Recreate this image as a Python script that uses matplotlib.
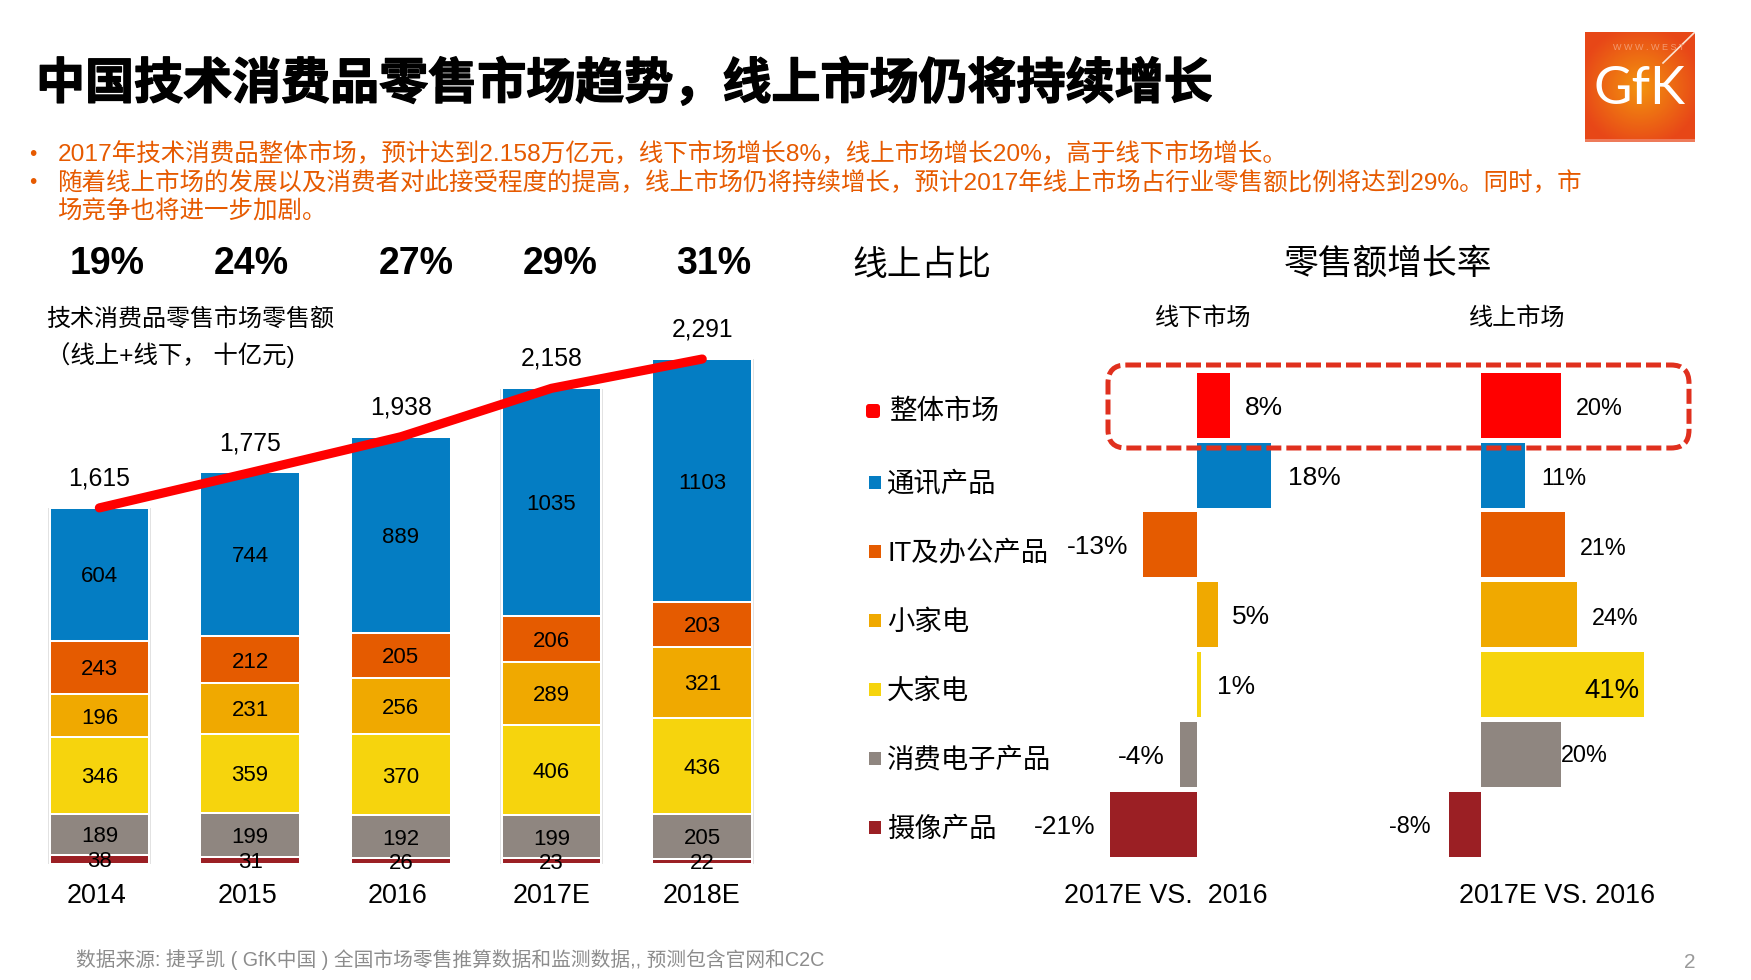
#!/usr/bin/env python3
# -*- coding: utf-8 -*-
import numpy as np
import matplotlib
matplotlib.use("Agg")
import matplotlib.pyplot as plt
import matplotlib.patheffects as pe
from matplotlib.patches import FancyBboxPatch, Rectangle

plt.rcParams['font.family'] = ['Liberation Sans', 'Noto Sans CJK SC']

W, H = 1751, 980

# Stacked bars, bottom to top
years = ["2014", "2015", "2016", "2017E", "2018E"]
camera = [38, 31, 26, 23, 22]
consumer = [189, 199, 192, 199, 205]
large_appliance = [346, 359, 370, 406, 436]
small_appliance = [196, 231, 256, 289, 321]
it_office = [243, 212, 205, 206, 203]
telecom = [604, 744, 889, 1035, 1103]
totals = [1615, 1775, 1938, 2158, 2291]
online_share = ["19%", "24%", "27%", "29%", "31%"]

# Growth rates, top to bottom
categories = ["整体市场", "通讯产品", "IT及办公产品", "小家电", "大家电", "消费电子产品", "摄像产品"]
offline_growth = [8, 18, -13, 5, 1, -4, -21]
online_growth = [20, 11, 21, 24, 41, 20, -8]

BLUE = "#047DC3"
ORANGE = "#E55B00"
AMBER = "#F0A900"
YELLOW = "#F6D40D"
GRAY = "#8F8680"
DARKRED = "#9B1F24"
RED = "#FF0000"
ROW_COLORS = [RED, BLUE, ORANGE, AMBER, YELLOW, GRAY, DARKRED]
TEXT_ORANGE = "#E65A00"


# Add an axes from a box given in image pixels (y measured from the top)
def axesPx(x0, y0, x1, y1):
    ax = fig.add_axes([x0 / W, 1 - y1 / H, (x1 - x0) / W, (y1 - y0) / H])
    ax.axis("off")
    return ax


fig = plt.figure(figsize=(W / 100, H / 100), dpi=100, facecolor="white")

# ---- stacked bars ----
BAR_SCALE = 0.2202  # pixels per unit
BAR_ZERO = 863.5
BAR_PITCH = 150.6
ax = axesPx(24, 300, 777.6, 880)
ax.set_xlim(-0.5, 4.5)
ax.set_ylim((BAR_ZERO - 880) / BAR_SCALE, (BAR_ZERO - 300) / BAR_SCALE)
x = np.arange(len(years))
ax.bar(x, totals, width=102.5 / BAR_PITCH, bottom=-2, color="#E2E2E2", zorder=1)
bottom = np.zeros(len(years))
stack = [(camera, DARKRED), (consumer, GRAY), (large_appliance, YELLOW),
         (small_appliance, AMBER), (it_office, ORANGE), (telecom, BLUE)]
for values, color in stack:
    ax.bar(x, values, width=99.5 / BAR_PITCH, bottom=bottom, color=color,
           edgecolor="white", linewidth=1.45, zorder=2)
    for i, v in enumerate(values):
        ax.text(i, bottom[i] + v / 2, str(v), ha="center", va="center_baseline",
                fontsize=16, color="black", zorder=4)
    bottom += values
ax.plot(x, totals, color=RED, linewidth=6.6, solid_capstyle="round", zorder=3)
for i, v in enumerate(totals):
    ax.annotate(f"{v:,}", (i, v), xytext=(0, 32), textcoords="offset pixels",
                ha="center", va="center_baseline", fontsize=17.8, color="black", zorder=4)

# ---- growth bars ----
row_h = 69.75
ax_off = axesPx(1090, 370.6, 1300, 858.9)
ax_on = axesPx(1430, 370.6, 1680, 858.9)
rows = np.arange(len(categories))
OFF_SCALE = 4.13
ON_SCALE = 3.98
ax_off.set_xlim((1090 - 1197) / OFF_SCALE, (1300 - 1197) / OFF_SCALE)
ax_on.set_xlim((1430 - 1481) / ON_SCALE, (1680 - 1481) / ON_SCALE)
for a in (ax_off, ax_on):
    a.set_ylim(6.5, -0.5)
ax_off.barh(rows, offline_growth, height=65 / row_h, color=ROW_COLORS)
ax_on.barh(rows, online_growth, height=65 / row_h, color=ROW_COLORS)

# label offsets from the bar end, in pixels
off_dx = [34, 43, -46, 33, 35, -39, -46]
off_dy = [0, 0, 0, 0, 0, 0, 0]
on_dx = [39, 39, 39, 39, -32, 24, -39]
on_dy = [-1, -1, -1, -1, -3, 1, 0]
on_size = [16.8, 16.8, 16.8, 16.8, 19.8, 16.8, 16.8]
for i, v in enumerate(offline_growth):
    ax_off.annotate(f"{v}%", (v, i), xytext=(off_dx[i], off_dy[i]), textcoords="offset pixels",
                    ha="center", va="center_baseline", fontsize=19, annotation_clip=False)
for i, v in enumerate(online_growth):
    ax_on.annotate(f"{v}%", (v, i), xytext=(on_dx[i], on_dy[i]), textcoords="offset pixels",
                   ha="center", va="center_baseline", fontsize=on_size[i], annotation_clip=False)

# ---- everything else is placed in image pixels on an overlay ----
over = axesPx(0, 0, W, H)
over.set_xlim(0, W)
over.set_ylim(H, 0)
over.set_zorder(5)

over.text(36, 84, "中国技术消费品零售市场趋势，线上市场仍将持续增长", fontsize=35.3, fontweight="bold",
          ha="left", va="center", color="black", family=['Noto Sans CJK SC'],
          path_effects=[pe.withStroke(linewidth=1.0, foreground="black")])

bullets = [(154, "2017年技术消费品整体市场，预计达到2.158万亿元，线下市场增长8%，线上市场增长20%，高于线下市场增长。", True),
           (183, "随着线上市场的发展以及消费者对此接受程度的提高，线上市场仍将持续增长，预计2017年线上市场占行业零售额比例将达到29%。同时，市", True),
           (212, "场竞争也将进一步加剧。", False)]
for y, line, dot in bullets:
    if dot:
        over.text(33, y, "•", fontsize=15, ha="center", va="center", color=TEXT_ORANGE)
    over.text(57.5, y, line, fontsize=17.63, ha="left", va="center", color=TEXT_ORANGE)

share_x = [107.5, 251, 416, 560, 713.5]
for sx, label in zip(share_x, online_share):
    over.text(sx, 264, label, fontsize=27, fontweight="bold", ha="center", va="center")

over.text(46, 319, "技术消费品零售市场零售额", fontsize=17.3, ha="left", va="center")
over.text(46, 355, "（线上+线下， 十亿元)", fontsize=17.6, ha="left", va="center")
over.text(922, 265.5, "线上占比", fontsize=25, ha="center", va="center")
over.text(1388, 264.5, "零售额增长率", fontsize=25, ha="center", va="center")
over.text(1203, 318, "线下市场", fontsize=17.4, ha="center", va="center")
over.text(1517, 318, "线上市场", fontsize=17.4, ha="center", va="center")

year_x = [96, 247, 397, 552, 701]
for yx, label in zip(year_x, years):
    over.text(yx, 896, label, fontsize=19.4, ha="center", va="center")
over.text(1166, 896, "2017E VS.  2016", fontsize=19.4, ha="center", va="center")
over.text(1557, 896, "2017E VS. 2016", fontsize=19.4, ha="center", va="center")

# legend
legend_y = [411, 482, 551, 620, 689, 758, 827]
for i, (ly, name) in enumerate(zip(legend_y, categories)):
    if i == 0:
        over.add_patch(FancyBboxPatch((867, ly - 6), 12, 12, boxstyle="round,pad=1,rounding_size=3",
                                      facecolor=ROW_COLORS[i], edgecolor="none"))
        over.text(890, ly + 1, name, fontsize=19.8, ha="left", va="center")
    else:
        over.add_patch(Rectangle((869, ly - 6.5), 12, 13, facecolor=ROW_COLORS[i], edgecolor="none"))
        over.text(887, ly + 2.5, name, fontsize=19.7, ha="left", va="center")

# dashed highlight round the first row
over.add_patch(FancyBboxPatch((1110, 367), 577, 79, boxstyle="round,pad=2,rounding_size=18",
                              facecolor="none", edgecolor="#E0301E", linewidth=3.6,
                              linestyle=(0, (3, 1)), capstyle="butt"))

over.text(76, 960, "数据来源: 捷孚凯 ( GfK中国 ) 全国市场零售推算数据和监测数据,, 预测包含官网和C2C",
          fontsize=14.2, ha="left", va="center", color="#8C8C8C")
over.text(1690, 962, "2", fontsize=15, ha="center", va="center", color="#9A9A9A")

# ---- logo ----
logo = axesPx(1585, 32, 1695, 142)
gx, gy = np.meshgrid(np.linspace(-1, 1, 110), np.linspace(-1, 1, 110))
t = np.clip(np.sqrt(gx ** 2 + gy ** 2) / 1.1, 0, 1)[..., None]
inner = np.array([243, 148, 14]) / 255
outer = np.array([232, 72, 24]) / 255
logo.imshow(inner * (1 - t) + outer * t, extent=(0, 110, 110, 0), aspect="auto")
logo.set_xlim(0, 110)
logo.set_ylim(110, 0)
logo.axhspan(107, 110, color="#EE7B5A", linewidth=0)
logo.plot([78, 110], [31, 0], color="#FBE3D2", linewidth=1.2)
logo.text(55, 58, "GfK", fontsize=38, color="white", ha="center", va="center",
          family=['Lato'], fontweight="normal")
logo.text(28, 15, "W W W . W E S T", fontsize=6.5, color="#F39A72", ha="left", va="center", clip_on=True)

plt.savefig("out.png", dpi=100)
